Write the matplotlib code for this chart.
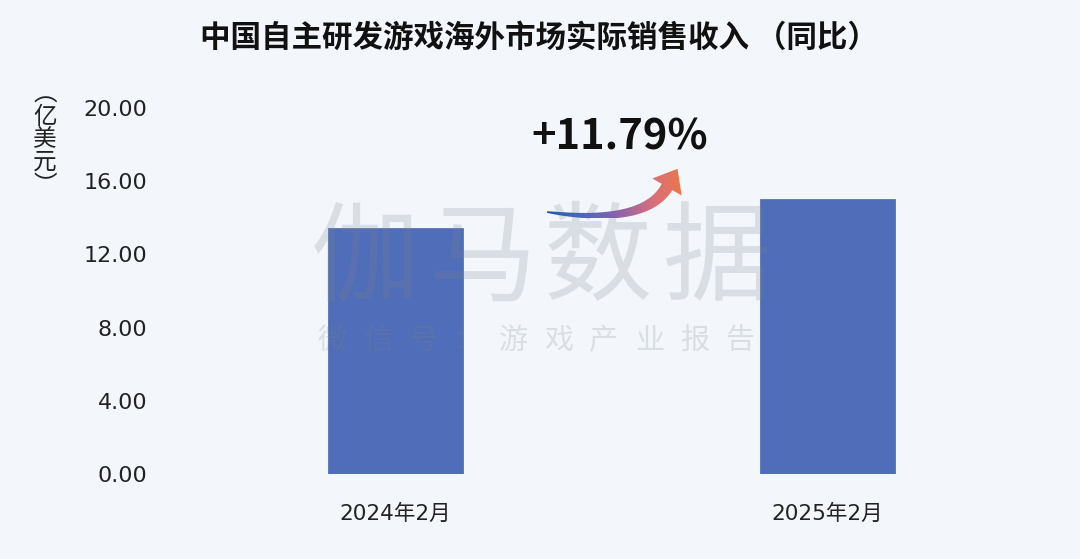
import numpy as np
import matplotlib.pyplot as plt
from matplotlib.path import Path as MPath
from matplotlib.patches import PathPatch
from matplotlib.colors import LinearSegmentedColormap

plt.rcParams["font.family"] = ["Noto Sans CJK SC", "DejaVu Sans"]
NUM_FONT = ["DejaVu Sans", "Noto Sans CJK SC"]

# data
categories = ["2024年2月", "2025年2月"]
revenue = [13.44, 15.03]          # 亿美元
yoy_label = "+11.79%"
y_ticks = [0, 4, 8, 12, 16, 20]

title = "中国自主研发游戏海外市场实际销售收入 （同比）"
watermark = "伽马数据"
watermark_sub = "微信号：游戏产业报告"

BG = "#F3F7FC"
BAR = "#4F6DB8"
W, H = 1080, 559

fig = plt.figure(figsize=(W / 100, H / 100), dpi=100, facecolor=BG)

# main axes, placed in pixel terms
left, right, bottom, top = 160, 1060, 474, 108
ax = fig.add_axes([left / W, (H - bottom) / H, (right - left) / W, (bottom - top) / H])
ax.set_facecolor(BG)
x = np.arange(len(categories))
ax.bar(x, revenue, width=0.3125, color=BAR, edgecolor="#5a74b3", linewidth=0.6, zorder=2)
ax.set_xlim(-0.544, 1.539)
ax.set_ylim(0, 20)
ax.set_yticks(y_ticks)
ax.set_yticklabels([f"{v:.2f}" for v in y_ticks], fontsize=16, color="#222222",
                   family=NUM_FONT)
ax.set_xticks(x)
ax.set_xticklabels(categories, fontsize=15.5, color="#222222", family=NUM_FONT)
ax.tick_params(axis="y", length=0, pad=9)
ax.tick_params(axis="x", length=0, pad=21)
for s in ax.spines.values():
    s.set_visible(False)

fig.text(539 / W, (H - 38) / H, title, ha="center", va="center",
         fontsize=22, fontweight="bold", color="#111111")
fig.text(45 / W, (H - 140) / H, "︵\n亿\n美\n元\n︶", ha="center", va="center",
         fontsize=17, color="#222222", linespacing=0.98)

# overlay in pixel coordinates for watermark / arrow / label
ov = fig.add_axes([0, 0, 1, 1], facecolor="none")
ov.set_xlim(0, W)
ov.set_ylim(H, 0)
ov.axis("off")

for cx, ch in zip([365, 483, 598, 717], watermark):
    ov.text(cx, 262, ch, ha="center", va="center", fontsize=78, color="#7f8890",
            alpha=0.22, fontweight="light", zorder=5)
for cx, ch in zip(np.linspace(332, 740, len(watermark_sub)), watermark_sub):
    ov.text(cx, 341, ch, ha="center", va="center", fontsize=21, color="#7f8890",
            alpha=0.22, fontweight="light", zorder=5)

ov.text(620, 138, yoy_label, ha="center", va="center", fontsize=30,
        fontweight="bold", color="#111111")

# curved gradient arrow (quadratic bezier body + triangular head)
p0, p2 = np.array([547.0, 212.0]), np.array([667.0, 187.0])
d_end = np.array([0.5, -0.866])
c = p2 - 45 * d_end
t = np.linspace(0, 1, 60)
pts = ((1 - t) ** 2)[:, None] * p0 + (2 * (1 - t) * t)[:, None] * c + (t ** 2)[:, None] * p2
d = np.gradient(pts, axis=0)
n = np.stack([-d[:, 1], d[:, 0]], axis=1)
n /= np.linalg.norm(n, axis=1)[:, None]
wdt = 0.8 + 5.4 * t ** 0.7
upper = pts + n * wdt[:, None]
lower = pts - n * wdt[:, None]
n_end = np.array([-d_end[1], d_end[0]])
head = np.array([p2 + 17 * n_end, p2 + 21 * d_end, p2 - 17 * n_end])
verts = np.vstack([upper, head, lower[::-1], upper[:1]])
codes = [MPath.MOVETO] + [MPath.LINETO] * (len(verts) - 2) + [MPath.CLOSEPOLY]
patch = PathPatch(MPath(verts, codes), facecolor="none", edgecolor="none")
ov.add_patch(patch)
cmap = LinearSegmentedColormap.from_list("arr", ["#2459a8", "#4a68b8", "#8a62ad", "#d8707a", "#f07a3c"])
grad = np.linspace(0, 1, 256)[None, :]
im = ov.imshow(grad, cmap=cmap, extent=[545, 690, 218, 162], aspect="auto",
               zorder=6, interpolation="bilinear")
im.set_clip_path(patch)

fig.savefig("out.png", dpi=100, facecolor=BG)
